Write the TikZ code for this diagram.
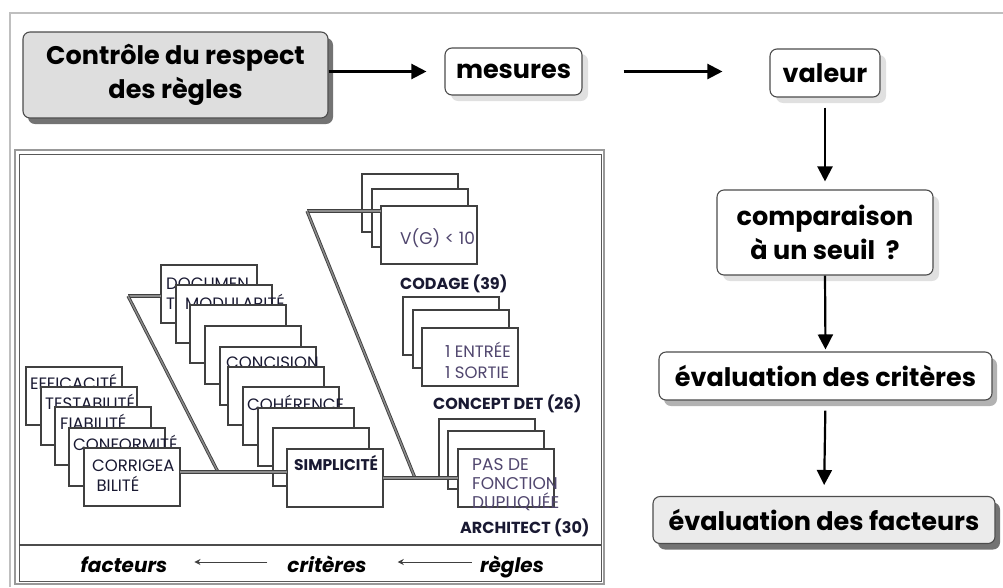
\documentclass[tikz,border=0pt]{standalone}
\usepackage{fontspec}
\setmainfont{Poppins}
\usetikzlibrary{arrows.meta,calc,shadows}
\definecolor{labink}{RGB}{25,25,50}
\definecolor{ruleink}{RGB}{80,70,110}
\tikzset{
  flow/.style={draw=black!70, line width=1.1pt, rounded corners=7pt, fill=white,
    align=center, inner sep=0pt, font=\bfseries\fontsize{25.5}{34}\selectfont},
  softshadow/.style={drop shadow={shadow xshift=6pt, shadow yshift=-6pt, fill=black!12, opacity=1}},
  hardshadow/.style={drop shadow={shadow xshift=5pt, shadow yshift=-6pt, fill=black!55, opacity=1}},
  midshadow/.style={drop shadow={shadow xshift=5pt, shadow yshift=-6pt, fill=black!30, opacity=1}},
  flowarrow/.style={line width=2.2pt, -{Triangle[length=15pt,width=15pt]}},
  card/.style={draw=black!75, line width=1.4pt, fill=white, minimum width=96pt,
    minimum height=58pt, anchor=north west, inner sep=0pt, outer sep=0pt},
  cardlab/.style={anchor=base west, inner sep=0pt, text=labink, align=left, font=\fontsize{16.5}{20}\selectfont},
  rulelab/.style={anchor=base west, inner sep=0pt, text=ruleink, align=left, font=\fontsize{17}{19}\selectfont},
  grouplab/.style={anchor=base west, inner sep=0pt, text=labink, font=\bfseries\fontsize{16}{20}\selectfont},
  fish/.style={draw=black!75, double=black!45, double distance=1.4pt, line width=0.9pt},
  axislab/.style={inner sep=0pt, anchor=base, font=\bfseries\itshape\fontsize{20}{24}\selectfont},
  axisarrow/.style={line width=1pt, black!75, -{Stealth[length=6pt,width=6pt]}}
}
\begin{document}
\begin{tikzpicture}[x=1pt,y=-1pt]
\useasboundingbox (0,0) rectangle (1003,587);

% outer frame
\draw[black!25, line width=2pt] (1003,13) -- (10,13) -- (10,587);

% ---- flow of the control process ----
\node[flow, fill=black!13, hardshadow, minimum width=305pt, minimum height=86pt]
  (ctrl) at (175.5,75) {Contrôle du respect\\des règles};
\node[flow, softshadow, minimum width=137pt, minimum height=47pt] (mes) at (513.5,71.5) {mesures};
\node[flow, softshadow, minimum width=110pt, minimum height=48pt] (val) at (825,73) {valeur};
\node[flow, softshadow, minimum width=216pt, minimum height=85pt] (comp) at (825,232.5)
  {comparaison\\à un seuil\ \ ?};
\node[flow, midshadow, minimum width=333pt, minimum height=48pt] (crit) at (825.5,376)
  {évaluation des critères};
\node[flow, fill=black!8, hardshadow, minimum width=342pt, minimum height=47pt] (fact) at (824,520)
  {évaluation des facteurs};

\draw[flowarrow, shorten >=18pt] (ctrl.east |- mes.west) -- (mes.west);
\draw[flowarrow, shorten <=41pt, shorten >=47pt] (mes.east) -- (val.west |- mes.east);
\draw[flowarrow, shorten <=10pt, shorten >=8pt] (val.south) -- (comp.north);
\draw[flowarrow, shorten >=2pt] (comp.south) -- (crit.north);
\draw[flowarrow, shorten <=10pt, shorten >=11pt] (crit.south) -- (fact.north);

% ---- panel: factors / criteria / rules ----
\draw[black!40, line width=1.6pt] (15,150) rectangle (604,584);
\draw[black!65, line width=0.9pt] (19,154) rectangle (601,581);
\draw[black!70, line width=1.4pt] (19,545) -- (601,545);

% factors
\node[card] (f1) at (26,367) {};
\node[cardlab] (f1t) at (30,389) {EFFICACITÉ};
\node[card] (f2) at (41,387) {};
\node[cardlab] (f2t) at (45,409) {TESTABILITÉ};
\node[card] (f3) at (55,407) {};
\node[cardlab] (f3t) at (60,429) {FIABILITÉ};
\node[card] (f4) at (69,428) {};
\node[cardlab] (f4t) at (73,450) {CONFORMITÉ};
\node[card] (f5) at (84,448) {};
\node[cardlab] (f5t) at (92,491) {CORRIGEA\\\ BILITÉ};

% criteria
\node[card] (c1) at (161,265) {};
\node[cardlab] (c1t) at (166,309) {DOCUMEN\\TA};
\node[card] (c2) at (176,285) {};
\node[cardlab] (c2t) at (185,309) {MODULARITÉ};
\node[card] (c3) at (190,305) {};
\node[card] (c4) at (205,326) {};
\node[card] (c5) at (220,347) {};
\node[cardlab] (c5t) at (226,368) {CONCISION};
\node[card] (c6) at (228,367) {};
\node[card] (c7) at (243,387) {};
\node[cardlab] (c7t) at (247,410) {COHÉRENCE};
\node[card] (c8) at (258,408) {};
\node[card] (c9) at (273,428) {};
\node[card] (c10) at (287,449) {};
\node[cardlab, font=\bfseries\fontsize{15.5}{20}\selectfont] (c10t) at (294,470) {SIMPLICITÉ};

% rules
\node[card] (r1) at (362,174) {};
\node[card] (r2) at (372,189) {};
\node[card] (r3) at (381,206) {};
\node[rulelab] (r3t) at (400,244) {V(G) < 10};
\node[grouplab] (g1) at (400,289) {CODAGE (39)};
\node[card] (r4) at (403,297) {};
\node[card] (r5) at (413,310) {};
\node[card] (r6) at (422,328) {};
\node[rulelab, font=\fontsize{16.5}{21}\selectfont] (r6t) at (445,378) {1 ENTRÉE\\1 SORTIE};
\node[grouplab] (g2) at (433,409) {CONCEPT DET (26)};
\node[card] (r7) at (439,419) {};
\node[card] (r8) at (448,431) {};
\node[card] (r9) at (458,449) {};
\node[rulelab] (r9t) at (472,508) {PAS DE\\FONCTION\\DUPLIQUÉE};
\node[grouplab] (g3) at (460,533) {ARCHITECT (30)};

% fishbone spines linking the stacks
\coordinate (lt) at (128,296);
\coordinate (lb) at (218,472);
\coordinate (rt) at (307,211);
\coordinate (rb) at (415,478);
\draw[fish] (lt) -- (lt -| c1.west);
\draw[fish] (lt) -- (lb);
\draw[fish] ($(lt)!0.318!(lb)$) -- ($(lt)!0.318!(lb)$ -| c3.west);
\draw[fish] ($(lt)!0.551!(lb)$) -- ($(lt)!0.551!(lb)$ -| c5.west);
\draw[fish] ($(lt)!0.807!(lb)$) -- ($(lt)!0.807!(lb)$ -| c7.west);
\draw[fish] (f5.east |- lb) -- (c10.west |- lb);
\draw[fish] (rt) -- (rt -| r3.west);
\draw[fish] (rt) -- (rb);
\draw[fish] ($(rt)!0.438!(rb)$) -- ($(rt)!0.438!(rb)$ -| r6.west);
\draw[fish] (c10.east |- rb) -- (r9.west |- rb);

% axis legend
\node[axislab] (af) at (124,572) {facteurs};
\node[axislab] (ac) at (327,572) {critères};
\node[axislab] (ar) at (512,572) {règles};
\draw[axisarrow, shorten <=20pt, shorten >=27pt] (ac.west |- 0,562) -- (af.east |- 0,562);
\draw[axisarrow, shorten <=8pt, shorten >=31pt] (ar.west |- 0,562) -- (ac.east |- 0,562);
\end{tikzpicture}
\end{document}
